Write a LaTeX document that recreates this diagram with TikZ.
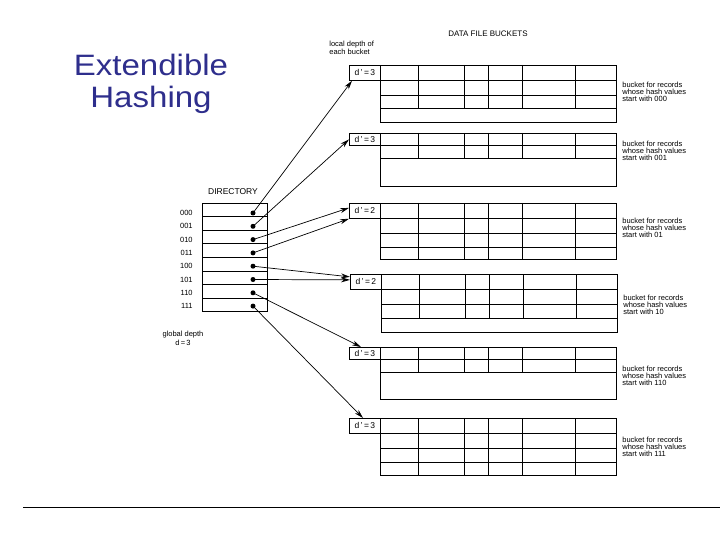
\documentclass[tikz,border=0pt]{standalone}
\usepackage{fontspec}
\setmainfont{Liberation Sans}
\newfontfamily\titlefont[FakeStretch=1.12]{Liberation Sans}
\usetikzlibrary{arrows.meta,positioning}
\definecolor{titleblue}{RGB}{46,46,140}

\begin{document}
\begin{tikzpicture}[x=1pt,y=-1pt, line width=0.75pt,
  small/.style={font=\fontsize{7.5}{7.3}\selectfont, inner sep=0pt},
  dbox/.style={draw, anchor=north west, minimum width=31pt, inner sep=0pt, font=\fontsize{8.5}{9}\selectfont},
  note/.style={small, anchor=west, align=left},
  dircell/.style={draw, minimum width=65pt, minimum height=13.6pt, inner sep=0pt},
  dot/.style={circle, fill, inner sep=0pt, minimum size=5pt},
  arr/.style={-{Stealth[length=9pt,width=5pt]}, line width=0.7pt}]
\useasboundingbox (0,0) rectangle (720,540);

% title
\node[font=\titlefont\fontsize{29.5}{32}\selectfont, text=titleblue, align=center] (title) at (151,84) {Extendible\\Hashing};

% headings
\node[font=\fontsize{8}{9}\selectfont, inner sep=0pt] (head) at (488,34) {DATA FILE BUCKETS};
\node[small, anchor=west, align=left, font=\fontsize{7.5}{8}\selectfont] (local) at (329,48) {local depth of\\each bucket};
\node[font=\fontsize{8.5}{9}\selectfont, inner sep=0pt] (dir) at (233,192) {DIRECTORY};
\node[small, align=center, font=\fontsize{7.5}{9}\selectfont] (global) at (183,338) {global depth\\d\,=\,3};

% directory
\foreach \b [count=\i from 0] in {000,001,010,011,100,101,110,111} {
  \node[dircell] (r\i) at (234.5,209.8+13.6*\i) {};
  \node[dot] (p\i) at (253,213+13.3*\i) {};
  \node[small, anchor=east] (l\i) at (193,213+13.3*\i) {\b};
}

% bucket 1
\node[dbox, minimum height=15pt] (d1) at (349,65) {d\,'\,=\,3};
\draw (380,65) rectangle (616,122);
\foreach \y in {80,95,108} \draw (380,\y) -- (616,\y);
\foreach \x in {418,464,488,522,575} \draw (\x,65) -- (\x,108);
\node[note] (n1) at (622,92) {bucket for records\\whose hash values\\start with 000};

% bucket 2
\node[dbox, minimum height=12pt] (d2) at (349,133) {d\,'\,=\,3};
\draw (380,133) rectangle (616,186);
\foreach \y in {145,158} \draw (380,\y) -- (616,\y);
\foreach \x in {418,464,488,522,575} \draw (\x,133) -- (\x,158);
\node[note] (n2) at (622,151) {bucket for records\\whose hash values\\start with 001};

% bucket 3
\node[dbox, minimum height=15pt] (d3) at (349,203) {d\,'\,=\,2};
\draw (380,203) rectangle (616,259);
\foreach \y in {218,233,247} \draw (380,\y) -- (616,\y);
\foreach \x in {418,464,488,522,575} \draw (\x,203) -- (\x,259);
\node[note] (n3) at (622,228) {bucket for records\\whose hash values\\start with 01};

% bucket 4
\node[dbox, minimum height=15pt] (d4) at (350,274) {d\,'\,=\,2};
\draw (381,274) rectangle (617,332);
\foreach \y in {289,304,318} \draw (381,\y) -- (617,\y);
\foreach \x in {419,465,489,523,576} \draw (\x,274) -- (\x,318);
\node[note] (n4) at (623,305) {bucket for records\\whose hash values\\start with 10};

% bucket 5
\node[dbox, minimum height=12pt] (d5) at (349,347) {d\,'\,=\,3};
\draw (380,347) rectangle (616,399);
\foreach \y in {359,372} \draw (380,\y) -- (616,\y);
\foreach \x in {418,464,488,522,575} \draw (\x,347) -- (\x,372);
\node[note] (n5) at (622,376) {bucket for records\\whose hash values\\start with 110};

% bucket 6
\node[dbox, minimum height=15pt] (d6) at (349,418) {d\,'\,=\,3};
\draw (380,418) rectangle (616,475);
\foreach \y in {433,448,462} \draw (380,\y) -- (616,\y);
\foreach \x in {418,464,488,522,575} \draw (\x,418) -- (\x,475);
\node[note] (n6) at (622,447) {bucket for records\\whose hash values\\start with 111};

% pointers
\draw[arr] (p0.center) -- ([xshift=3pt]d1.south west);
\draw[arr] (p1.center) -- (d2.west);
\draw[arr] (p2.center) -- ([yshift=3pt]d3.west);
\draw[arr] (p3.center) -- (d3.south west);
\draw[arr] (p4.center) -- ([yshift=5pt]d4.west);
\draw[arr] (p5.center) -- ([yshift=2pt]d4.west);
\draw[arr] (p6.center) -- ([xshift=12pt]d5.north west);
\draw[arr] (p7.center) -- ([xshift=14pt]d6.north west);

% rule
\draw[line width=0.9pt] (23,507) -- (720,507);
\end{tikzpicture}
\end{document}
